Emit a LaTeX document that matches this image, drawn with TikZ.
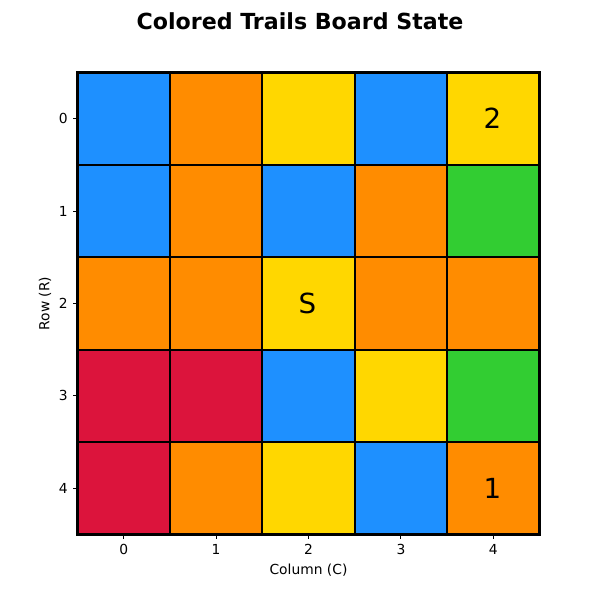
\documentclass[tikz,border=0pt]{standalone}
\usepackage{fontspec}
\setmainfont{DejaVu Sans}
\usetikzlibrary{positioning}

\definecolor{cblue}{RGB}{30,144,255}
\definecolor{corange}{RGB}{255,140,0}
\definecolor{cyellow}{RGB}{255,215,0}
\definecolor{cgreen}{RGB}{50,205,50}
\definecolor{cred}{RGB}{220,20,60}

\begin{document}
\begin{tikzpicture}[x=0.0254cm, y=-0.0254cm,
    cell/.style={draw=black, line width=1.5pt, line cap=rect},
    tick/.style={line width=0.8pt},
    ticklabel/.style={font=\fontsize{10}{12}\selectfont, inner sep=0pt},
    marker/.style={font=\fontsize{20}{24}\selectfont, text=black}
]
    \useasboundingbox (0,0) rectangle (600,600);

    % Title
    \node[font=\fontsize{16}{19}\selectfont\bfseries] (title) at (300,21) {Colored Trails Board State};

    % Board cells, row by row
    \foreach \row/\colours in {0/{cblue,corange,cyellow,cblue,cyellow},
                               1/{cblue,corange,cblue,corange,cgreen},
                               2/{corange,corange,cyellow,corange,corange},
                               3/{cred,cred,cblue,cyellow,cgreen},
                               4/{cred,corange,cyellow,cblue,corange}} {
        \foreach \c [count=\col from 0] in \colours {
            \fill[\c] (77.5+92.4*\col, 72.5+92.4*\row) rectangle ++(92.4,92.4);
        }
    }
    % Grid lines
    \foreach \k in {0,...,5} {
        \draw[cell] (77.5+92.4*\k, 72.5) -- (77.5+92.4*\k, 534.5);
        \draw[cell] (77.5, 72.5+92.4*\k) -- (539.5, 72.5+92.4*\k);
    }

    % Cell markers
    \node[marker] (goal) at (492.3,118.7) {2};
    \node[marker] (start) at (307.3,303.5) {S};
    \node[marker] (target) at (492.3,488.3) {1};

    % Ticks and tick labels
    \foreach \k in {0,...,4} {
        \draw[tick] (123.7+92.4*\k, 534.5) -- ++(0,4.9);
        \node[ticklabel, anchor=north] (xt\k) at (123.7+92.4*\k, 544) {\k};
        \draw[tick] (77.5, 118.7+92.4*\k) -- ++(-4.9,0);
        \node[ticklabel, anchor=east] (yt\k) at (68, 118.7+92.4*\k) {\k};
    }

    % Axis labels
    \node[ticklabel] (xlabel) at (308.5,570) {Column (C)};
    \node[ticklabel, rotate=90] (ylabel) at (45,303.5) {Row (R)};
\end{tikzpicture}
\end{document}
